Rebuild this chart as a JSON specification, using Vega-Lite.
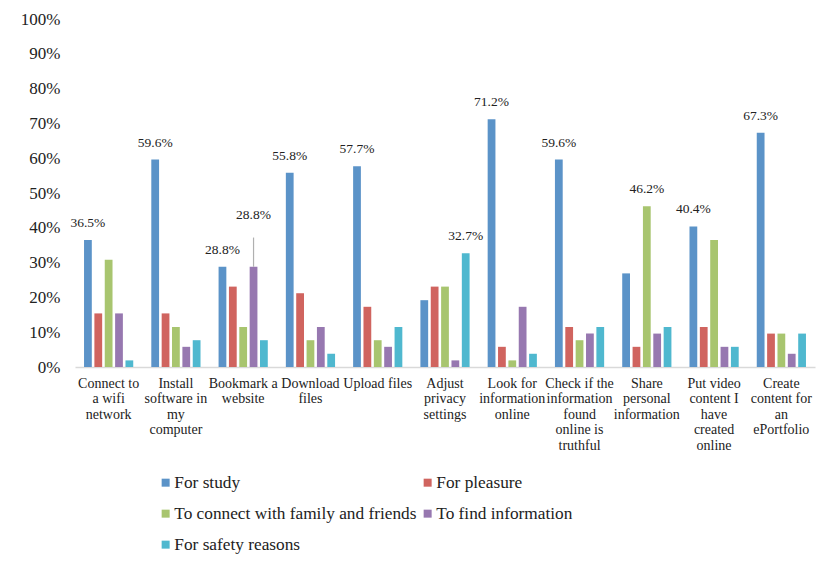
{
  "$schema": "https://vega.github.io/schema/vega-lite/v6.json",
  "width": 740,
  "height": 348,
  "autosize": {"type": "none"},
  "padding": {"left": 75, "top": 19, "right": 15, "bottom": 196},
  "background": "white",
  "config": {
    "view": {"stroke": null},
    "font": "Liberation Serif",
    "axis": {"labelFont": "Liberation Serif", "labelColor": "#222222", "grid": false, "ticks": false, "labelOverlap": false},
    "legend": {"labelFont": "Liberation Serif"},
    "text": {"font": "Liberation Serif"}
  },
  "data": {
    "values": [
      {"task": "Connect to\na wifi\nnetwork", "reason": "For study", "pct": 36.5},
      {"task": "Connect to\na wifi\nnetwork", "reason": "For pleasure", "pct": 15.4},
      {"task": "Connect to\na wifi\nnetwork", "reason": "To connect with family and friends", "pct": 30.8},
      {"task": "Connect to\na wifi\nnetwork", "reason": "To find information", "pct": 15.4},
      {"task": "Connect to\na wifi\nnetwork", "reason": "For safety reasons", "pct": 1.9},
      {"task": "Install\nsoftware in\nmy\ncomputer", "reason": "For study", "pct": 59.6},
      {"task": "Install\nsoftware in\nmy\ncomputer", "reason": "For pleasure", "pct": 15.4},
      {"task": "Install\nsoftware in\nmy\ncomputer", "reason": "To connect with family and friends", "pct": 11.5},
      {"task": "Install\nsoftware in\nmy\ncomputer", "reason": "To find information", "pct": 5.8},
      {"task": "Install\nsoftware in\nmy\ncomputer", "reason": "For safety reasons", "pct": 7.7},
      {"task": "Bookmark a\nwebsite", "reason": "For study", "pct": 28.8},
      {"task": "Bookmark a\nwebsite", "reason": "For pleasure", "pct": 23.1},
      {"task": "Bookmark a\nwebsite", "reason": "To connect with family and friends", "pct": 11.5},
      {"task": "Bookmark a\nwebsite", "reason": "To find information", "pct": 28.8},
      {"task": "Bookmark a\nwebsite", "reason": "For safety reasons", "pct": 7.7},
      {"task": "Download\nfiles", "reason": "For study", "pct": 55.8},
      {"task": "Download\nfiles", "reason": "For pleasure", "pct": 21.2},
      {"task": "Download\nfiles", "reason": "To connect with family and friends", "pct": 7.7},
      {"task": "Download\nfiles", "reason": "To find information", "pct": 11.5},
      {"task": "Download\nfiles", "reason": "For safety reasons", "pct": 3.8},
      {"task": "Upload files", "reason": "For study", "pct": 57.7},
      {"task": "Upload files", "reason": "For pleasure", "pct": 17.3},
      {"task": "Upload files", "reason": "To connect with family and friends", "pct": 7.7},
      {"task": "Upload files", "reason": "To find information", "pct": 5.8},
      {"task": "Upload files", "reason": "For safety reasons", "pct": 11.5},
      {"task": "Adjust\nprivacy\nsettings", "reason": "For study", "pct": 19.2},
      {"task": "Adjust\nprivacy\nsettings", "reason": "For pleasure", "pct": 23.1},
      {"task": "Adjust\nprivacy\nsettings", "reason": "To connect with family and friends", "pct": 23.1},
      {"task": "Adjust\nprivacy\nsettings", "reason": "To find information", "pct": 1.9},
      {"task": "Adjust\nprivacy\nsettings", "reason": "For safety reasons", "pct": 32.7},
      {"task": "Look for\ninformation\nonline", "reason": "For study", "pct": 71.2},
      {"task": "Look for\ninformation\nonline", "reason": "For pleasure", "pct": 5.8},
      {"task": "Look for\ninformation\nonline", "reason": "To connect with family and friends", "pct": 1.9},
      {"task": "Look for\ninformation\nonline", "reason": "To find information", "pct": 17.3},
      {"task": "Look for\ninformation\nonline", "reason": "For safety reasons", "pct": 3.8},
      {"task": "Check if the\ninformation\nfound\nonline is\ntruthful", "reason": "For study", "pct": 59.6},
      {"task": "Check if the\ninformation\nfound\nonline is\ntruthful", "reason": "For pleasure", "pct": 11.5},
      {"task": "Check if the\ninformation\nfound\nonline is\ntruthful", "reason": "To connect with family and friends", "pct": 7.7},
      {"task": "Check if the\ninformation\nfound\nonline is\ntruthful", "reason": "To find information", "pct": 9.6},
      {"task": "Check if the\ninformation\nfound\nonline is\ntruthful", "reason": "For safety reasons", "pct": 11.5},
      {"task": "Share\npersonal\ninformation", "reason": "For study", "pct": 26.9},
      {"task": "Share\npersonal\ninformation", "reason": "For pleasure", "pct": 5.8},
      {"task": "Share\npersonal\ninformation", "reason": "To connect with family and friends", "pct": 46.2},
      {"task": "Share\npersonal\ninformation", "reason": "To find information", "pct": 9.6},
      {"task": "Share\npersonal\ninformation", "reason": "For safety reasons", "pct": 11.5},
      {"task": "Put video\ncontent I\nhave\ncreated\nonline", "reason": "For study", "pct": 40.4},
      {"task": "Put video\ncontent I\nhave\ncreated\nonline", "reason": "For pleasure", "pct": 11.5},
      {"task": "Put video\ncontent I\nhave\ncreated\nonline", "reason": "To connect with family and friends", "pct": 36.5},
      {"task": "Put video\ncontent I\nhave\ncreated\nonline", "reason": "To find information", "pct": 5.8},
      {"task": "Put video\ncontent I\nhave\ncreated\nonline", "reason": "For safety reasons", "pct": 5.8},
      {"task": "Create\ncontent for\nan\nePortfolio", "reason": "For study", "pct": 67.3},
      {"task": "Create\ncontent for\nan\nePortfolio", "reason": "For pleasure", "pct": 9.6},
      {"task": "Create\ncontent for\nan\nePortfolio", "reason": "To connect with family and friends", "pct": 9.6},
      {"task": "Create\ncontent for\nan\nePortfolio", "reason": "To find information", "pct": 3.8},
      {"task": "Create\ncontent for\nan\nePortfolio", "reason": "For safety reasons", "pct": 9.6}
    ]
  },
  "transform": [
    {"joinaggregate": [{"op": "max", "field": "pct", "as": "groupMax"}], "groupby": ["task"]},
    {"calculate": "indexof(datum.task, 'Bookmark') == 0 && datum.reason == 'To find information'", "as": "hasLeader"}
  ],
  "encoding": {
    "x": {
      "field": "task",
      "type": "nominal",
      "sort": null,
      "title": null,
      "scale": {"paddingInner": 0.23, "paddingOuter": 0.115},
      "axis": {
        "labelAngle": 0,
        "labelFontSize": 14,
        "labelLineHeight": 15.5,
        "labelPadding": 9,
        "labelBaseline": "top",
        "labelLimit": 0,
        "domainColor": "#d9d9d9",
        "domainWidth": 1.5,
        "labelExpr": "split(datum.label, '\\n')"
      }
    },
    "xOffset": {
      "field": "reason",
      "type": "nominal",
      "sort": ["For study", "For pleasure", "To connect with family and friends", "To find information", "For safety reasons"],
      "scale": {"paddingInner": 0.25, "paddingOuter": 0.125}
    }
  },
  "layer": [
    {
      "mark": {"type": "bar"},
      "encoding": {
        "y": {
          "field": "pct",
          "type": "quantitative",
          "title": null,
          "scale": {"domain": [0, 100], "nice": false},
          "axis": {
            "tickCount": 10,
            "labelExpr": "datum.value + '%'",
            "labelFontSize": 17,
            "labelPadding": 15,
            "domain": false
          }
        },
        "color": {
          "field": "reason",
          "type": "nominal",
          "sort": ["For study", "For pleasure", "To connect with family and friends", "To find information", "For safety reasons"],
          "scale": {
            "domain": ["For study", "For pleasure", "To connect with family and friends", "To find information", "For safety reasons"],
            "range": ["#5b93c8", "#d0645f", "#a8c56f", "#9778b0", "#4fb8cf"]
          },
          "legend": {
            "orient": "none",
            "legendX": 82,
            "legendY": 455,
            "direction": "horizontal",
            "columns": 2,
            "columnPadding": 2,
            "rowPadding": 13,
            "symbolType": "square",
            "symbolSize": 64,
            "symbolStrokeWidth": 0,
            "labelFontSize": 17.3,
            "labelColor": "#222222",
            "labelOffset": 0,
            "labelLimit": 0,
            "title": null
          }
        }
      }
    },
    {
      "transform": [
        {"filter": "datum.hasLeader"},
        {"calculate": "datum.pct + 8.4", "as": "leaderTop"}
      ],
      "mark": {"type": "rule", "color": "#b0b0b0", "strokeWidth": 1.2},
      "encoding": {
        "y": {"field": "pct", "type": "quantitative", "title": null},
        "y2": {"field": "leaderTop"}
      }
    },
    {
      "transform": [
        {"filter": "datum.pct == datum.groupMax"},
        {"calculate": "datum.hasLeader ? datum.pct + 10.1 : datum.pct", "as": "labelPos"},
        {"calculate": "format(datum.pct, '.1f') + '%'", "as": "labelText"}
      ],
      "mark": {"type": "text", "baseline": "middle", "align": "center", "dy": -17, "fontSize": 13.5, "color": "#222222"},
      "encoding": {
        "y": {"field": "labelPos", "type": "quantitative", "title": null},
        "text": {"field": "labelText", "type": "nominal"}
      }
    }
  ]
}
